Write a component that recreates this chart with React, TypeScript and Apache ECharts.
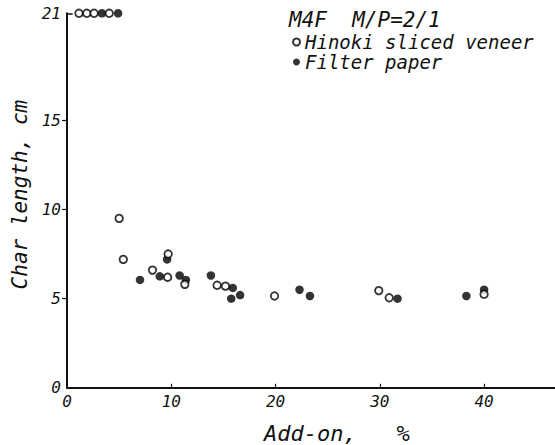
import React, { useEffect, useRef } from "react";
import * as echarts from "echarts";

const hinokiX = [1.15, 1.9, 2.6, 4.05, 5.0, 5.4, 8.2, 9.65, 9.7, 11.3, 14.4, 15.2, 19.9, 29.9, 30.9, 40.0];
const hinokiY = [21, 21, 21, 21, 9.5, 7.2, 6.6, 6.2, 7.5, 5.8, 5.75, 5.7, 5.15, 5.45, 5.05, 5.25];

const filterX = [3.35, 4.9, 7.0, 8.9, 9.6, 10.8, 11.4, 13.8, 15.9, 15.75, 16.6, 22.3, 23.3, 31.7, 38.3, 40.0];
const filterY = [21, 21, 6.05, 6.25, 7.2, 6.3, 6.05, 6.3, 5.6, 5.0, 5.2, 5.5, 5.15, 5.0, 5.15, 5.5];

const xTickValues = [10, 20, 30, 40];
const xLabelValues = [0, 10, 20, 30, 40];
const yTickValues = [5, 10, 15];
const yLabelValues = [0, 5, 10, 15, 21];

const FONT = "DejaVu Sans Mono";

export default function App() {
  const ref = useRef<HTMLDivElement>(null);
  useEffect(() => {
    if (!ref.current) return;
    const chart = echarts.init(ref.current, null, { renderer: "svg" });
    const hinoki = hinokiX.map((x, i) => [x, hinokiY[i]]);
    const filter = filterX.map((x, i) => [x, filterY[i]]);
    chart.setOption({
      animation: false,
      backgroundColor: "#ffffff",
      title: {
        text: "M4F  M/P=2/1",
        left: 289,
        top: 9,
        padding: 0,
        textStyle: { fontFamily: FONT, fontStyle: "italic", fontWeight: "normal", fontSize: 21, lineHeight: 22, color: "#111" },
      },
      legend: {
        orient: "vertical",
        left: 292,
        top: 32,
        padding: 0,
        itemGap: 0,
        itemWidth: 7,
        itemHeight: 7,
        data: [
          { name: "Hinoki sliced veneer", icon: "circle" },
          { name: "Filter paper", icon: "circle" },
        ],
        textStyle: { fontFamily: FONT, fontStyle: "italic", fontSize: 19, color: "#111", lineHeight: 20 },
      },
      grid: { left: 67, right: 0, top: 13.3, bottom: 57.2, containLabel: false, outerBoundsMode: "none" },
      xAxis: {
        type: "value",
        min: 0,
        max: 46.8,
        splitLine: { show: false },
        axisLine: { lineStyle: { color: "#111", width: 2 } },
        axisTick: { show: true, inside: true, length: 4, customValues: xTickValues, lineStyle: { color: "#111", width: 1.2 } },
        axisLabel: {
          customValues: xLabelValues,
          margin: 6,
          fontFamily: FONT,
          fontStyle: "italic",
          fontSize: 16,
          color: "#111",
        },
      },
      yAxis: {
        type: "value",
        min: 0,
        max: 21,
        name: "Char length, cm",
        nameLocation: "middle",
        nameGap: 33,
        nameTextStyle: { fontFamily: FONT, fontStyle: "italic", fontSize: 21, color: "#111", padding: [0, 0, 0, 12] },
        splitLine: { show: false },
        axisLine: { lineStyle: { color: "#111", width: 2 } },
        axisTick: { show: true, length: 5, customValues: yTickValues, lineStyle: { color: "#111", width: 1.2 } },
        axisLabel: {
          customValues: yLabelValues,
          margin: 6,
          fontFamily: FONT,
          fontStyle: "italic",
          fontSize: 16,
          color: "#111",
        },
      },
      graphic: [
        {
          type: "text",
          left: 264,
          top: 422,
          style: { text: "Add-on,   %", fontFamily: FONT, fontStyle: "italic", fontSize: 22, fill: "#111" },
        },
      ],
      series: [
        {
          name: "Filter paper",
          type: "scatter",
          data: filter,
          symbol: "circle",
          symbolSize: 8.5,
          itemStyle: { color: "#000" },
          markLine: {
            silent: true,
            symbol: "none",
            label: { show: false },
            lineStyle: { color: "#111", width: 1.5, type: "solid" },
            data: [[{ coord: [0, 21] }, { coord: [0.55, 21] }]],
          },
        },
        {
          name: "Hinoki sliced veneer",
          type: "scatter",
          data: hinoki,
          symbol: "circle",
          symbolSize: 7.5,
          itemStyle: { color: "#fff", borderColor: "#000", borderWidth: 1.8 },
        },
      ],
    });
    return () => chart.dispose();
  }, []);
  return <div ref={ref} style={{ position: "fixed", left: 0, top: 0, width: 555, height: 445 }} />;
}
